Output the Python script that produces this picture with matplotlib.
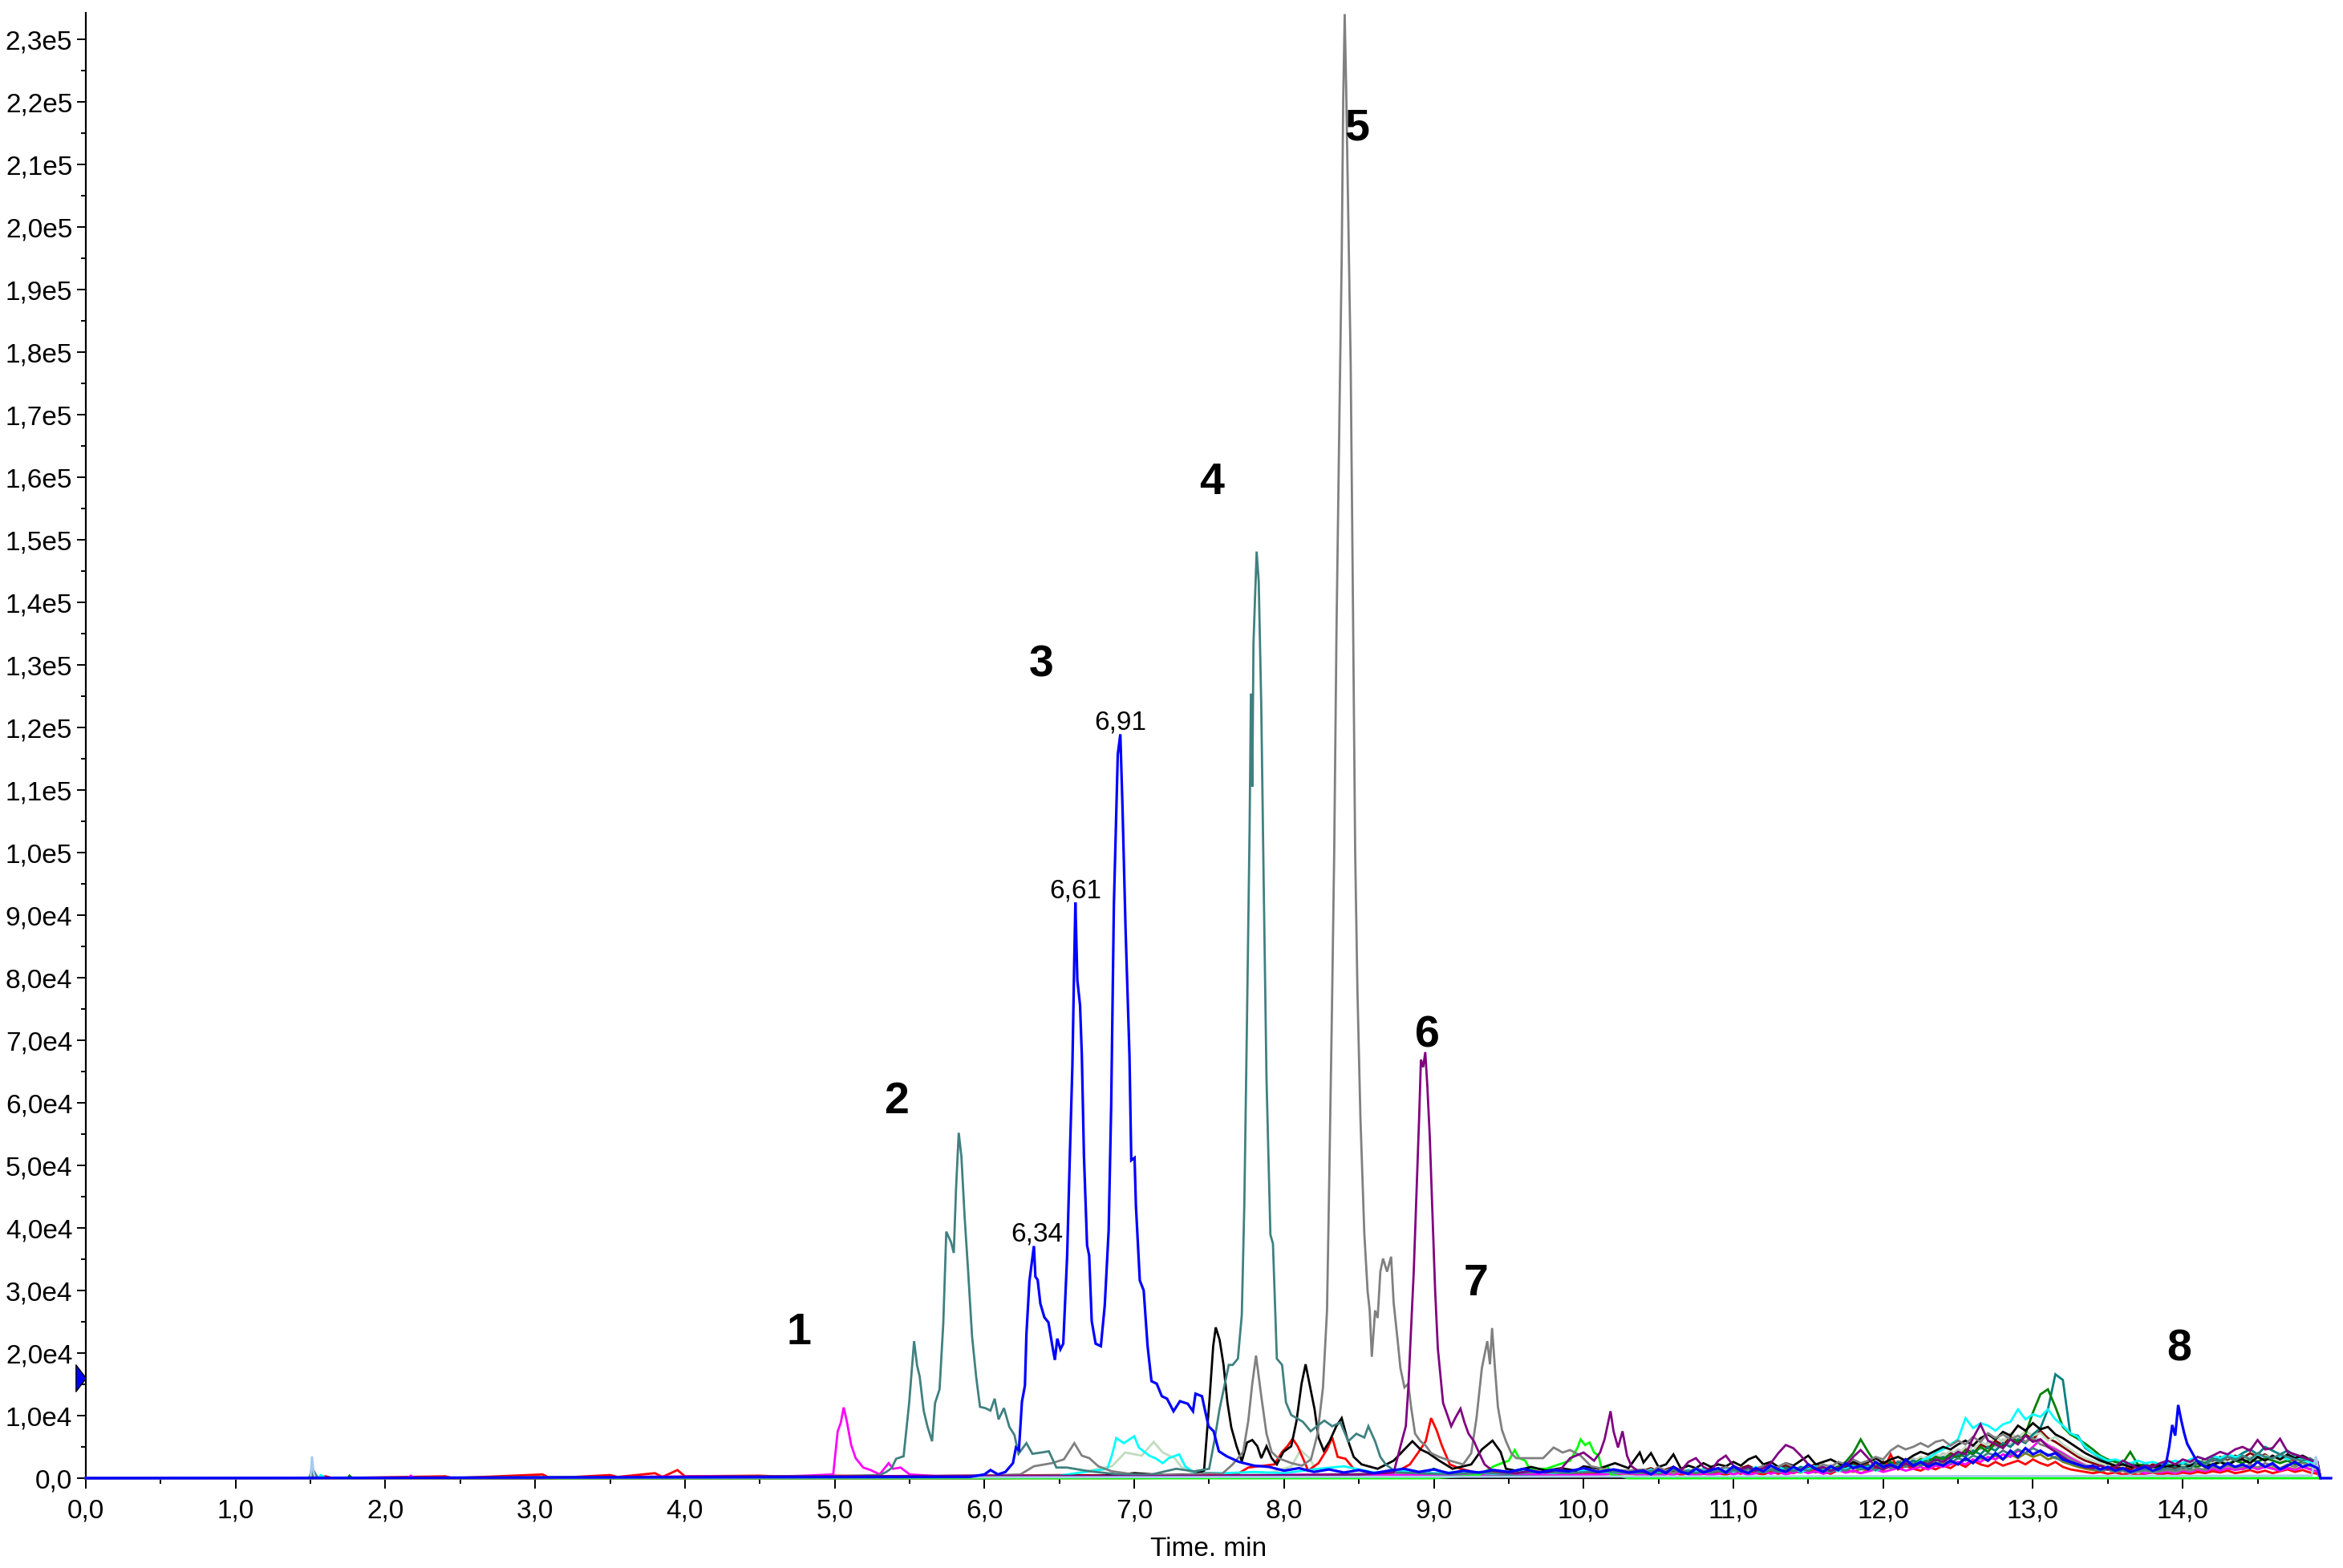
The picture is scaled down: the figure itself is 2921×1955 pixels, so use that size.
import numpy as np
import matplotlib
matplotlib.use("Agg")
import matplotlib.pyplot as plt
from matplotlib.ticker import MultipleLocator, FuncFormatter
from matplotlib.path import Path
from matplotlib import font_manager

# ---------------- data (time in min, intensity in thousands of counts) ----------------
T_GRID = [10.40, 10.45, 10.50, 10.55, 10.60, 10.65, 10.70, 10.75, 10.80, 10.85,
          10.90, 10.95, 11.00, 11.05, 11.10, 11.15, 11.20, 11.25, 11.30, 11.35,
          11.40, 11.45, 11.50, 11.55, 11.60, 11.65, 11.70, 11.75, 11.80, 11.85,
          11.90, 11.95, 12.00, 12.05, 12.10, 12.15, 12.20, 12.25, 12.30, 12.35,
          12.40, 12.45, 12.50, 12.55, 12.60, 12.65, 12.70, 12.75, 12.80, 12.85,
          12.90, 12.95, 13.00, 13.05, 13.10, 13.15, 13.20, 13.25, 13.30, 13.35,
          13.40, 13.45, 13.50, 13.55, 13.60, 13.65, 13.70, 13.75, 13.80, 13.85,
          13.90, 13.95, 14.00, 14.05, 14.10, 14.15, 14.20, 14.25, 14.30, 14.35,
          14.40, 14.45, 14.50, 14.55, 14.60, 14.65, 14.70, 14.75, 14.80, 14.85,
          14.90]

# explicit (time, kcounts) points
blue_pts = [(0, 0), (5.9, 0.2), (6.0, 0.6), (6.04, 1.3), (6.09, 0.6), (6.14, 1.0), (6.19, 2.4),
            (6.21, 4.9), (6.23, 4.5), (6.25, 12.2), (6.27, 14.8), (6.28, 23), (6.30, 31.5),
            (6.33, 37.1), (6.34, 32.2), (6.355, 31.7), (6.373, 27.9), (6.40, 25.7), (6.427, 24.9),
            (6.454, 21), (6.47, 18.9), (6.486, 22.3), (6.507, 20.6), (6.526, 21.5), (6.552, 35.6),
            (6.57, 51.6), (6.587, 66), (6.6, 83.6), (6.607, 92), (6.62, 79.6), (6.638, 75.6),
            (6.65, 67.6), (6.664, 51.6), (6.685, 37.2), (6.699, 35.6), (6.716, 25.1), (6.742, 21.5),
            (6.777, 21.1), (6.803, 27.6), (6.829, 39.6), (6.846, 59.6), (6.864, 91.7), (6.89, 115.7),
            (6.907, 118.9), (6.921, 107.7), (6.942, 87.7), (6.968, 67.6), (6.98, 50.8), (7.002, 51.2),
            (7.011, 43.6), (7.037, 31.6), (7.063, 30), (7.089, 21.1), (7.115, 15.5), (7.15, 15.1),
            (7.184, 13.1), (7.219, 12.7), (7.262, 10.7), (7.305, 12.3), (7.357, 11.9), (7.392, 10.7),
            (7.409, 13.5), (7.452, 13.1), (7.47, 11.1), (7.496, 8.3), (7.53, 7.5), (7.565, 4.3),
            (7.617, 3.5), (7.7, 2.6), (7.8, 2.0), (7.9, 1.8), (8.0, 1.2), (8.1, 1.6), (8.2, 1.0),
            (8.3, 1.4), (8.4, 0.9), (8.5, 1.3), (8.6, 0.8), (8.7, 1.2), (8.8, 1.5), (8.9, 1.0),
            (9.0, 1.4), (9.1, 0.8), (9.2, 1.2), (9.3, 0.9), (9.4, 1.3), (9.5, 1.0), (9.6, 1.5),
            (9.7, 0.9), (9.8, 1.3), (9.9, 1.1), (10.0, 1.6), (10.1, 1.0), (10.2, 1.4), (10.3, 0.9)]
blue_peak8 = [(13.85, 1.6), (13.89, 2.5), (13.91, 5.0), (13.93, 8.5), (13.95, 6.8), (13.97, 11.7),
              (13.99, 9.3), (14.01, 7.2), (14.03, 5.5), (14.06, 4.2), (14.09, 2.9), (14.13, 2.1),
              (14.17, 1.6)]
blue_grid = [1.2, 0.6, 1.4, 0.8, 1.8, 1.0, 0.7, 1.5, 0.9, 1.3,
             1.6, 0.9, 1.9, 1.2, 0.8, 1.6, 1.1, 2.0, 1.4, 1.0,
             1.8, 1.2, 2.2, 1.5, 1.0, 1.9, 1.3, 2.4, 1.6, 2.0,
             1.4, 2.6, 1.8, 2.2, 1.6, 3.0, 2.0, 2.6, 1.8, 2.4,
             2.0, 2.8, 2.2, 3.2, 2.4, 3.6, 2.8, 4.0, 3.0, 4.4,
             3.4, 4.8, 3.8, 4.4, 3.6, 4.0, 3.0, 2.6, 2.2, 1.8,
             2.0, 1.4, 1.8, 1.2, 1.6, 1.0, 1.4, 1.8, 1.2, 1.6,
             2.0, 2.0, 2.0, 2.0, 2.0, 1.8, 2.2, 1.6, 2.4, 1.8,
             2.2, 1.6, 2.6, 1.8, 2.4, 1.4, 2.0, 2.6, 1.8, 2.2,
             1.6]

teal_pts = [(0, 0), (1.5, 0), (1.52, 1.2), (1.55, 0), (5.0, 0.3), (5.3, 0.5), (5.345, 1.0),
            (5.38, 1.6), (5.41, 3.1), (5.46, 3.5), (5.497, 12), (5.53, 21.9), (5.55, 18), (5.567, 16.3),
            (5.594, 10.8), (5.62, 8.2), (5.65, 5.9), (5.67, 12), (5.7, 14.2), (5.725, 24.8),
            (5.745, 39.4), (5.777, 37.7), (5.795, 36), (5.81, 46.2), (5.828, 55.2), (5.846, 51.4),
            (5.867, 41.9), (5.89, 33.4), (5.917, 22.7), (5.944, 16.3), (5.97, 11.4), (6.005, 11.2),
            (6.04, 10.8), (6.068, 12.7), (6.094, 9.4), (6.13, 11.2), (6.166, 8.2), (6.2, 6.9),
            (6.227, 3.9), (6.28, 5.6), (6.32, 3.9), (6.38, 4.1), (6.43, 4.3), (6.48, 1.7),
            (6.55, 1.7), (6.7, 1.1), (6.9, 0.6), (7.1, 0.5), (7.28, 1.5), (7.4, 1.1), (7.5, 1.5),
            (7.536, 6.1), (7.57, 11.1), (7.605, 15.1), (7.631, 18.1), (7.657, 18.1), (7.692, 19.1),
            (7.718, 26.1), (7.735, 43.9), (7.753, 73.8), (7.77, 103.6), (7.779, 125.4),
            (7.788, 110.5), (7.796, 133.4), (7.817, 148.1), (7.831, 143.3), (7.848, 123.4),
            (7.865, 93.6), (7.883, 63.8), (7.909, 38.9), (7.926, 37.5), (7.952, 19.1), (7.987, 18.1),
            (8.013, 12.1), (8.048, 10.1), (8.091, 9.5), (8.126, 9.0), (8.178, 7.5), (8.23, 8.5),
            (8.269, 9.2), (8.322, 8.3), (8.376, 8.9), (8.429, 5.9), (8.483, 7.1), (8.536, 6.5),
            (8.563, 8.3), (8.608, 5.9), (8.643, 3.4), (8.679, 2.2), (8.75, 0.9), (8.9, 0.8),
            (9.1, 0.6), (9.3, 0.9), (9.5, 0.7), (9.7, 1.0), (9.9, 0.8), (10.1, 1.1), (10.3, 0.9)]
teal_grid = [0.8, 1.2, 0.7, 1.0, 1.4, 0.9, 1.2, 0.8, 1.1, 0.9,
             1.2, 0.8, 1.3, 1.0, 1.5, 1.1, 0.9, 1.3, 1.0, 1.4,
             1.1, 1.5, 1.2, 1.7, 1.3, 1.0, 1.5, 1.2, 1.8, 1.4,
             1.7, 1.3, 2.0, 1.6, 2.2, 1.8, 2.4, 2.0, 2.6, 2.2,
             2.8, 2.4, 3.2, 2.8, 3.6, 3.2, 4.0, 3.6, 4.4, 3.8,
             4.6, 4.0, 4.8, 4.2, 3.8, 3.2, 2.8, 2.4, 2.0, 1.8,
             1.5, 1.2, 1.4, 1.1, 1.3, 1.0, 1.2, 1.4, 1.1, 1.3,
             1.6, 1.3, 1.8, 1.5, 2.6, 2.2, 3.0, 2.6, 3.4, 2.8,
             3.6, 3.0, 4.0, 3.4, 3.2, 3.8, 3.4, 3.0, 2.8, 3.2,
             2.4]

gray_pts = [(0, 0), (1.5, 0), (1.52, 1.2), (1.54, 0), (5.5, 0.3), (6.0, 0.4), (6.24, 0.6),
            (6.33, 1.9), (6.45, 2.4), (6.53, 3.0), (6.6, 5.6), (6.65, 3.6), (6.7, 3.2), (6.76, 1.9),
            (6.85, 1.1), (7.0, 0.6), (7.3, 0.5), (7.5, 0.8), (7.587, 0.7), (7.657, 2.2), (7.727, 4.2),
            (7.761, 9.1), (7.788, 15.1), (7.813, 19.6), (7.848, 13.1), (7.883, 7.1), (7.917, 4.2),
            (7.961, 3.2), (8.05, 2.4), (8.12, 2.0), (8.18, 3.0), (8.224, 7.1), (8.26, 14.5),
            (8.287, 26.8), (8.30, 45), (8.32, 75), (8.335, 100), (8.35, 135), (8.37, 170),
            (8.385, 195), (8.395, 220), (8.405, 234), (8.415, 222), (8.43, 200), (8.445, 178),
            (8.46, 140), (8.475, 100), (8.49, 78), (8.51, 57.6), (8.536, 39.1), (8.558, 29.9),
            (8.572, 26.8), (8.586, 19.4), (8.608, 26.8), (8.625, 25.6), (8.643, 33), (8.661, 35.1),
            (8.688, 33), (8.715, 35.4), (8.732, 28), (8.759, 21.9), (8.777, 17.6), (8.804, 14.5),
            (8.83, 15.1), (8.848, 11.4), (8.875, 7.1), (8.911, 5.9), (8.946, 5.2), (8.982, 4.0),
            (9.036, 3.4), (9.107, 2.8), (9.196, 2.2), (9.25, 4.0), (9.285, 9.6), (9.321, 17.6),
            (9.357, 21.9), (9.375, 18.2), (9.389, 24.0), (9.41, 17), (9.428, 11.4), (9.455, 7.7),
            (9.482, 5.9), (9.517, 4.0), (9.55, 3.2), (9.64, 3.2), (9.73, 3.2), (9.8, 4.9),
            (9.86, 4.1), (9.91, 4.5), (9.98, 3.6), (10.05, 1.9), (10.15, 1.4), (10.3, 1.2)]
gray_grid = [1.4, 1.0, 1.8, 1.2, 0.8, 1.4, 1.0, 1.6, 1.2, 0.9,
             1.3, 1.8, 1.2, 1.6, 1.0, 1.5, 2.0, 1.4, 1.8, 2.4,
             1.8, 1.4, 2.0, 1.6, 2.2, 1.8, 2.6, 2.2, 3.0, 2.4,
             2.8, 3.4, 3.0, 4.4, 5.2, 4.6, 5.0, 5.6, 5.0, 5.8,
             6.1, 5.2, 6.0, 5.4, 6.6, 5.8, 7.2, 6.4, 7.0, 6.2,
             6.8, 5.8, 6.4, 5.4, 5.0, 4.4, 3.8, 3.0, 2.4, 2.0,
             1.6, 1.2, 1.4, 1.0, 1.2, 0.8, 1.0, 1.2, 0.9, 1.1,
             1.3, 1.0, 1.4, 1.2, 1.6, 1.3, 1.8, 1.5, 2.0, 1.6,
             1.8, 2.2, 1.7, 2.4, 2.0, 1.6, 2.2, 1.8, 2.4, 2.0,
             1.6]

purple_pts = [(0, 0), (3.0, 0), (3.5, 0.2), (5, 0.3), (6, 0.4), (7, 0.3), (8, 0.5), (8.5, 0.6),
              (8.732, 0.9), (8.759, 3.4), (8.786, 5.9), (8.813, 8.3), (8.83, 14.5), (8.848, 23.7),
              (8.866, 33), (8.884, 45.3), (8.902, 57.6), (8.914, 66.9), (8.929, 65.7), (8.943, 68.1),
              (8.957, 62.6), (8.973, 54.6), (8.991, 42.2), (9.009, 29.9), (9.027, 20.7),
              (9.045, 16.3), (9.062, 12), (9.089, 10.2), (9.116, 8.3), (9.143, 9.6), (9.178, 11.1),
              (9.205, 8.9), (9.232, 7.1), (9.268, 5.9), (9.303, 4.0), (9.339, 2.2), (9.392, 1.2),
              (9.45, 1.0), (9.55, 0.8), (9.65, 1.2), (9.75, 0.9), (9.85, 1.5), (9.91, 3.2),
              (10.0, 4.1), (10.07, 2.8), (10.11, 4.1), (10.14, 6.2), (10.18, 10.7), (10.2, 7.5),
              (10.23, 4.9), (10.26, 7.5), (10.29, 3.6), (10.32, 1.9), (10.36, 1.2)]
purple_grid = [1.0, 0.6, 1.4, 0.9, 1.8, 1.2, 2.6, 3.2, 1.8, 1.2,
               2.8, 3.6, 2.0, 1.4, 1.8, 1.2, 1.6, 2.4, 4.0, 5.3,
               4.8, 3.6, 2.2, 1.4, 1.8, 1.2, 1.6, 2.0, 3.4, 4.5,
               3.2, 1.8, 1.4, 2.0, 1.6, 2.4, 1.8, 2.6, 2.2, 3.0,
               2.6, 3.4, 4.2, 3.8, 6.4, 8.6, 6.0, 5.4, 4.8, 6.2,
               5.4, 6.8, 5.8, 6.2, 5.0, 4.2, 3.4, 2.6, 2.2, 1.8,
               1.6, 2.0, 1.4, 1.8, 2.8, 2.2, 1.6, 2.0, 1.8, 2.4,
               2.8, 2.2, 3.0, 2.6, 3.4, 3.0, 3.6, 4.2, 3.8, 4.6,
               5.0, 4.4, 6.1, 4.6, 4.8, 6.3, 4.2, 3.8, 3.4, 2.9,
               2.5]

black_pts = [(0, 0), (1.5, 0), (1.51, 2.0), (1.53, 0), (4.0, 0.2), (5.0, 0.3), (6.0, 0.3),
             (6.8, 0.4), (7.0, 0.8), (7.2, 0.5), (7.4, 0.6), (7.466, 1.2), (7.501, 12.1),
             (7.527, 21.1), (7.544, 24.1), (7.57, 22.1), (7.596, 18.1), (7.622, 12.1), (7.648, 8.1),
             (7.683, 5.1), (7.718, 2.7), (7.753, 5.7), (7.788, 6.1), (7.822, 5.1), (7.848, 3.2),
             (7.883, 5.1), (7.917, 3.2), (7.952, 2.2), (7.996, 4.2), (8.048, 5.1), (8.083, 9.1),
             (8.117, 15.1), (8.144, 18.2), (8.17, 15.1), (8.204, 11.0), (8.23, 6.5), (8.265, 4.4),
             (8.304, 5.9), (8.349, 8.3), (8.385, 9.6), (8.42, 6.5), (8.465, 3.4), (8.518, 2.2),
             (8.625, 1.5), (8.732, 2.8), (8.804, 4.6), (8.857, 5.9), (8.911, 4.6), (8.964, 4.0),
             (9.036, 2.8), (9.125, 1.5), (9.25, 2.2), (9.321, 4.6), (9.392, 6.0), (9.446, 4.2),
             (9.482, 1.5), (9.55, 1.2), (9.65, 1.8), (9.75, 1.2), (9.85, 1.6), (9.95, 1.2),
             (10.0, 1.9), (10.1, 1.5), (10.21, 2.4), (10.3, 1.6), (10.375, 4.1)]
black_grid = [2.5, 4.0, 1.8, 2.2, 3.8, 1.5, 2.0, 1.6, 2.4, 1.8,
              2.2, 1.9, 2.6, 2.0, 3.0, 3.5, 2.2, 2.6, 1.8, 2.4,
              2.0, 2.8, 3.6, 2.2, 2.6, 3.0, 2.4, 1.9, 2.6, 2.2,
              2.6, 3.2, 2.4, 3.0, 3.4, 2.8, 3.6, 4.2, 3.8, 4.4,
              5.0, 4.6, 5.4, 6.0, 5.2, 6.4, 7.0, 6.2, 7.4, 6.8,
              8.4, 7.6, 8.8, 7.8, 8.2, 7.0, 6.4, 5.6, 4.8, 4.0,
              3.4, 2.8, 2.4, 2.0, 2.2, 1.8, 2.0, 1.6, 1.8, 2.0,
              1.8, 2.2, 1.6, 2.0, 2.4, 1.8, 2.2, 2.6, 2.0, 2.8,
              3.0, 2.4, 3.4, 2.8, 3.6, 3.0, 3.8, 3.2, 3.6, 3.0,
              2.6]

red_pts = [(0, 0), (1.5, 0), (1.51, 1.5), (1.53, 0), (1.6, 0.3), (1.65, 0), (2.4, 0.3), (2.45, 0),
           (3.05, 0.6), (3.1, 0), (3.5, 0.5), (3.55, 0.2), (3.8, 0.8), (3.85, 0.2), (3.95, 1.3),
           (4.0, 0.3), (4.5, 0.4), (4.7, 0.2), (5.0, 0.4), (5.5, 0.3), (6.0, 0.4), (6.5, 0.5),
           (7.0, 0.4), (7.5, 0.5), (7.692, 0.7), (7.761, 1.7), (7.935, 2.2), (7.987, 4.2),
           (8.022, 5.1), (8.057, 6.3), (8.091, 5.1), (8.126, 3.2), (8.161, 1.2), (8.23, 2.4),
           (8.287, 4.6), (8.322, 6.5), (8.358, 3.4), (8.411, 3.1), (8.465, 1.5), (8.6, 0.8),
           (8.75, 1.0), (8.84, 2.2), (8.893, 4.0), (8.946, 5.9), (8.982, 9.6), (9.018, 7.7),
           (9.054, 5.2), (9.107, 2.2), (9.178, 1.5), (9.3, 0.8), (9.5, 1.0), (9.7, 0.7), (9.9, 0.9),
           (10.1, 0.6), (10.3, 0.8)]
red_grid = [0.4, 0.7, 0.3, 0.6, 0.9, 0.5, 0.8, 0.4, 0.7, 0.5,
            0.8, 0.5, 1.0, 0.7, 1.2, 0.8, 0.6, 1.0, 0.7, 1.1,
            0.8, 1.2, 0.9, 1.5, 1.0, 0.7, 1.3, 0.9, 1.2, 0.8,
            1.1, 1.6, 1.2, 3.8, 1.4, 2.0, 1.5, 1.2, 1.8, 1.4,
            2.0, 1.6, 2.4, 1.8, 2.8, 2.2, 1.9, 2.6, 2.0, 2.4,
            2.8, 2.2, 3.0, 2.4, 2.0, 2.6, 1.8, 1.4, 1.2, 1.0,
            0.8, 1.0, 0.7, 0.9, 0.6, 0.8, 0.5, 0.7, 0.9, 0.6,
            0.8, 0.6, 0.9, 0.7, 1.0, 0.8, 1.1, 0.9, 1.2, 0.8,
            1.0, 1.3, 0.9, 1.2, 0.8, 1.1, 1.4, 1.0, 1.3, 0.9,
            0.7]

magenta_pts = [(0, 0), (2.15, 0), (2.17, 0.4), (2.19, 0), (4.2, 0.3), (4.5, 0.2), (4.8, 0.4),
               (4.99, 0.6), (5.02, 7.5), (5.04, 8.8), (5.06, 11.3), (5.08, 9.2), (5.11, 5.3),
               (5.14, 3.2), (5.19, 1.7), (5.24, 1.3), (5.3, 0.6), (5.36, 2.4), (5.39, 1.5),
               (5.44, 1.7), (5.5, 0.6), (5.7, 0.3), (6.0, 0.2), (6.5, 0.3), (7.0, 0.4), (7.5, 0.3),
               (8.0, 0.5), (8.5, 0.6), (9.0, 0.4), (9.5, 0.7), (10.0, 0.5), (10.3, 0.8)]
magenta_grid = [0.5, 0.8, 0.4, 0.7, 0.5, 0.9, 0.6, 0.4, 0.8, 0.5,
                0.7, 1.0, 0.6, 0.9, 0.5, 0.8, 1.1, 0.7, 1.0, 0.6,
                0.9, 1.2, 0.8, 1.1, 0.7, 1.0, 1.3, 0.9, 1.2, 0.8,
                1.1, 1.4, 1.0, 1.3, 1.6, 1.2, 1.5, 1.8, 1.4, 2.0,
                1.8, 2.2, 2.6, 2.2, 3.0, 2.6, 3.4, 3.0, 3.8, 3.4,
                4.4, 4.0, 5.0, 6.2, 5.2, 4.6, 4.0, 3.2, 2.6, 2.0,
                1.6, 1.2, 1.4, 1.0, 1.2, 0.9, 1.1, 0.8, 1.0, 0.9,
                1.1, 0.8, 1.2, 1.0, 1.4, 1.1, 1.5, 1.2, 1.6, 1.3,
                1.5, 1.9, 1.4, 1.8, 1.5, 1.2, 1.6, 1.3, 1.8, 1.4,
                1.0]

cyan_pts = [(0, 0), (1.55, 0), (1.57, 0.5), (1.6, 0), (5.0, 0.2), (6.0, 0.3), (6.5, 0.4),
            (6.82, 1.5), (6.85, 3.6), (6.88, 6.4), (6.93, 5.6), (7.0, 6.7), (7.03, 4.9), (7.1, 3.6),
            (7.14, 3.2), (7.19, 2.4), (7.23, 3.2), (7.3, 3.8), (7.34, 1.9), (7.4, 0.9), (7.6, 0.8),
            (7.8, 1.0), (8.0, 0.8), (8.23, 1.5), (8.4, 1.9), (8.6, 0.9), (8.8, 1.1), (9.0, 0.8),
            (9.2, 1.0), (9.4, 0.7), (9.6, 1.1), (9.8, 0.8), (10.0, 1.2), (10.2, 0.9)]
cyan_grid = [1.0, 1.4, 0.8, 1.2, 1.6, 1.0, 1.3, 0.9, 1.5, 1.1,
             1.3, 1.7, 1.0, 1.4, 1.2, 1.8, 1.1, 1.5, 1.9, 1.2,
             1.6, 1.0, 1.4, 2.0, 1.3, 1.7, 1.1, 1.5, 1.9, 1.4,
             1.8, 1.2, 1.6, 2.2, 1.8, 2.4, 2.0, 2.8, 3.2, 4.0,
             4.6, 5.4, 6.2, 9.6, 8.0, 8.8, 8.4, 7.6, 8.6, 9.0,
             11.0, 9.4, 10.2, 9.8, 11.0, 9.4, 8.4, 7.2, 6.6, 5.0,
             4.0, 3.4, 2.8, 3.0, 2.6, 2.4, 2.8, 2.4, 2.6, 2.2,
             2.5, 2.8, 2.4, 3.0, 3.4, 3.0, 3.6, 3.2, 3.8, 3.4,
             3.6, 3.0, 3.8, 3.4, 3.2, 3.6, 3.0, 3.4, 2.8, 2.6,
             2.4]

lightgreen_pts = [(0, 0), (5, 0.2), (6.5, 0.3), (6.85, 1.9), (6.94, 4.1), (7.05, 3.6), (7.13, 5.8),
                  (7.19, 4.1), (7.27, 3.2), (7.31, 1.9), (7.4, 0.6), (7.6, 0.5), (7.9, 0.8),
                  (8.05, 1.9), (8.11, 4.5), (8.17, 3.2), (8.23, 0.6), (8.5, 0.8), (8.8, 1.2),
                  (9.0, 0.7), (9.3, 1.0), (9.6, 0.8), (9.9, 1.1), (10.2, 0.7)]
lightgreen_grid = [0.8, 1.2, 0.6, 1.0, 1.4, 0.8, 1.2, 0.7, 1.1, 0.9,
                   1.2, 0.8, 1.4, 1.0, 1.6, 1.2, 1.8, 1.3, 1.0, 1.6,
                   1.2, 1.8, 1.4, 2.0, 1.6, 2.2, 1.8, 1.4, 2.0, 1.6,
                   2.0, 2.4, 1.8, 2.6, 2.2, 3.0, 2.6, 3.4, 3.0, 3.8,
                   3.4, 4.4, 3.8, 5.0, 4.4, 5.8, 5.2, 6.6, 5.8, 7.2,
                   6.4, 7.6, 6.8, 7.2, 6.0, 6.6, 5.4, 4.6, 3.8, 3.2,
                   2.8, 2.4, 2.0, 2.4, 1.8, 2.2, 1.6, 2.0, 1.8, 2.2,
                   1.8, 2.4, 2.0, 2.6, 2.2, 2.8, 2.4, 3.0, 2.6, 3.2,
                   2.8, 3.4, 3.0, 3.6, 3.2, 2.8, 3.4, 3.0, 2.6, 3.0,
                   2.2]

silver_pts = [(0, 0), (6.0, 0), (7.0, 0.3), (8.0, 0.4), (8.6, 0.6), (9.2, 0.5), (9.6, 0.9),
              (10.0, 0.7), (10.3, 0.9)]
silver_grid = [0.6, 1.0, 0.7, 1.2, 0.8, 1.1, 0.6, 0.9, 1.3, 0.8,
               1.0, 1.4, 0.9, 1.2, 0.8, 1.3, 1.0, 1.5, 1.1, 1.4,
               1.0, 1.3, 1.7, 1.2, 1.5, 1.1, 1.6, 2.0, 1.5, 1.9,
               1.6, 2.1, 2.6, 2.2, 2.8, 2.4, 3.2, 2.8, 3.6, 3.2,
               4.0, 3.6, 4.6, 4.0, 5.2, 4.6, 5.8, 5.0, 6.2, 5.4,
               6.6, 5.8, 6.8, 6.0, 5.4, 4.8, 4.0, 3.4, 2.8, 2.2,
               1.8, 1.5, 1.9, 1.4, 1.7, 1.2, 1.6, 1.3, 1.8, 1.4,
               1.7, 2.2, 1.8, 2.4, 2.0, 2.6, 2.2, 2.8, 2.4, 3.0,
               2.6, 3.2, 2.8, 3.4, 3.0, 2.6, 3.2, 2.8, 2.4, 2.8,
               2.0]

maroon_pts = [(0, 0), (1.5, 0), (1.51, 0.8), (1.53, 0), (6.0, 0), (8.0, 0.4), (8.5, 0.3),
              (9.0, 0.6), (9.3, 0.4), (9.6, 0.8), (9.9, 0.6), (10.2, 1.0)]
maroon_grid = [1.2, 1.6, 1.0, 1.4, 1.8, 1.2, 1.0, 1.5, 1.2, 1.6,
               1.4, 1.8, 1.2, 1.6, 2.0, 1.4, 1.8, 1.2, 1.6, 2.0,
               1.6, 1.2, 1.8, 2.2, 1.6, 2.0, 1.4, 1.8, 2.4, 1.8,
               2.2, 1.8, 2.6, 2.0, 2.4, 3.0, 2.6, 3.2, 2.8, 3.6,
               3.2, 4.0, 3.6, 4.8, 4.2, 5.4, 4.8, 6.0, 5.2, 6.6,
               5.8, 7.0, 6.2, 7.6, 6.4, 5.8, 5.0, 4.2, 3.4, 2.8,
               2.4, 2.0, 2.2, 1.6, 1.8, 1.4, 2.0, 1.6, 2.2, 1.8,
               2.0, 1.6, 2.4, 2.8, 2.2, 3.0, 2.6, 3.4, 2.8, 3.6,
               3.2, 4.0, 3.4, 3.8, 3.0, 3.6, 3.2, 2.8, 3.4, 3.0,
               2.4]

olive_pts = [(0, 0), (7.0, 0), (8.0, 0.3), (8.6, 0.5), (9.0, 0.3), (9.4, 0.6), (9.8, 0.5), (10.2, 0.7)]
olive_grid = [0.6, 0.9, 0.5, 0.8, 1.0, 0.6, 0.9, 0.7, 1.1, 0.8,
              1.0, 0.7, 1.2, 0.9, 1.3, 1.0, 0.8, 1.2, 1.0, 1.4,
              1.1, 1.5, 1.2, 0.9, 1.4, 1.1, 1.6, 1.3, 1.0, 1.5,
              1.2, 1.7, 1.4, 1.9, 1.5, 2.0, 1.7, 2.3, 1.9, 2.5,
              2.2, 2.8, 2.4, 3.0, 2.6, 3.2, 2.8, 3.6, 3.0, 3.8,
              3.2, 4.0, 3.4, 3.8, 3.0, 3.4, 2.6, 2.2, 1.8, 1.5,
              1.3, 1.1, 1.4, 1.0, 1.2, 0.9, 1.1, 1.3, 1.0, 1.2,
              0.9, 1.2, 1.0, 1.4, 1.1, 1.5, 1.2, 1.6, 1.3, 1.7,
              1.4, 1.8, 1.5, 1.9, 1.6, 1.3, 1.7, 1.4, 1.8, 1.5,
              1.1]

green_pts = [(0, 0), (1.49, 0), (1.51, 1.2), (1.53, 0), (1.75, 0), (1.76, 0.4), (1.78, 0),
             (5.0, 0.1), (7.0, 0.3), (8.5, 0.4), (8.9, 0.5), (9.0, 1.5), (9.1, 0.6), (9.3, 0.5),
             (9.6, 0.9), (10.0, 0.6), (10.3, 0.9)]
green_grid = [0.7, 1.0, 0.6, 0.9, 1.2, 0.8, 1.1, 0.7, 1.0, 0.8,
              1.1, 0.8, 1.3, 1.0, 1.4, 1.1, 0.9, 1.3, 1.0, 1.5,
              1.2, 0.9, 1.4, 1.1, 1.6, 1.3, 1.8, 2.6, 4.0, 6.2,
              4.2, 2.4, 1.8, 2.6, 2.0, 2.8, 2.2, 3.0, 2.6, 3.4,
              3.0, 3.8, 3.2, 4.4, 3.8, 5.0, 4.2, 5.6, 4.8, 6.4,
              5.8, 7.0, 10.5, 13.4, 14.2, 11.4, 8.2, 7.0, 6.3, 5.5,
              4.6, 3.6, 3.0, 2.6, 2.4, 4.2, 2.2, 2.0, 1.8, 1.6,
              1.8, 2.2, 1.6, 2.0, 1.8, 2.4, 2.0, 2.6, 2.2, 2.8,
              2.4, 3.0, 2.6, 3.2, 2.8, 2.4, 2.8, 2.2, 2.6, 2.0,
              1.6]

darkteal_pts = [(0, 0), (1.5, 0), (1.52, 0.6), (1.54, 0), (8.0, 0.2), (8.8, 0.5), (9.2, 0.7),
                (9.6, 0.5), (10.0, 0.9), (10.3, 0.8)]
darkteal_grid = [0.9, 1.3, 0.8, 1.1, 1.5, 1.0, 1.3, 0.9, 1.4, 1.1,
                 1.4, 1.0, 1.6, 1.2, 1.8, 1.3, 1.0, 1.5, 1.2, 1.7,
                 1.3, 1.8, 1.4, 1.1, 1.6, 1.2, 1.9, 1.5, 2.1, 1.6,
                 2.0, 1.6, 2.3, 1.8, 2.6, 2.1, 2.8, 2.4, 3.2, 2.8,
                 3.4, 3.0, 3.8, 3.4, 4.4, 3.8, 5.0, 4.4, 5.6, 5.0,
                 6.2, 5.6, 7.0, 8.0, 11.0, 16.6, 15.7, 7.0, 6.8, 4.8,
                 4.0, 3.2, 2.6, 2.8, 2.2, 2.4, 2.0, 2.2, 1.8, 2.0,
                 2.2, 1.8, 2.4, 2.0, 2.8, 2.4, 3.2, 2.8, 3.8, 3.2,
                 4.0, 4.6, 3.8, 5.0, 4.4, 3.8, 4.4, 3.6, 3.2, 2.8,
                 2.2]

lime_pts = [(0, 0), (9.0, 0), (9.3, 0.5), (9.375, 1.5), (9.4, 1.9), (9.5, 2.8), (9.54, 4.5),
            (9.57, 3.2), (9.61, 2.8), (9.64, 1.5), (9.75, 1.5), (9.91, 2.8), (9.96, 4.9),
            (9.98, 6.2), (10.01, 5.3), (10.04, 5.7), (10.07, 4.1), (10.1, 3.6), (10.12, 1.5),
            (10.16, 1.9), (10.18, 0.6), (10.25, 0.3), (10.3, 0), (14.92, 0)]

lightblue_pts = [(0, 0), (1.5, 0), (1.51, 3.5), (1.52, 1.0), (1.53, 0), (14.86, 0.4), (14.89, 3.5),
                 (14.91, 0.5), (14.92, 0)]

threshold_level = 16.0  # kcounts, blue threshold flag on the y axis

peak_labels = [("6,34", 6.35, 37.1), ("6,61", 6.606, 92.0), ("6,91", 6.907, 118.9)]
compound_ids = ["1", "2", "3", "4", "5", "6", "7", "8"]
compound_pos = [(4.76, 21.5), (5.414, 58.5), (6.381, 128.2), (7.518, 157.4),
                (8.487, 214.0), (8.955, 69.0), (9.282, 29.3), (13.976, 18.9)]

x_ticks = [0.0, 1.0, 2.0, 3.0, 4.0, 5.0, 6.0, 7.0, 8.0, 9.0, 10.0, 11.0, 12.0, 13.0, 14.0]
x_label = "Time. min"

# ---------------- helpers ----------------
END_T = 14.92


def build(pts, grid_vals=None, extra=()):
    out = list(pts)
    if grid_vals is not None:
        assert len(grid_vals) == len(T_GRID)
        ranges = [(min(p[0] for p in seg) - 1e-6, max(p[0] for p in seg) + 1e-6) for seg in extra]
        for t, v in zip(T_GRID, grid_vals):
            if not any(lo <= t <= hi for lo, hi in ranges):
                out.append((t, v))
        out.append((END_T, 0.0))
    for seg in extra:
        out.extend(seg)
    out.sort(key=lambda p: p[0])
    t = np.array([p[0] for p in out])
    v = np.array([p[1] for p in out]) * 1000.0
    return t, v


# ---------------- fonts ----------------
names = {f.name for f in font_manager.fontManager.ttflist}
NARROW = 'Liberation Sans Narrow' in names
FAM = ['Liberation Sans Narrow', 'Liberation Sans', 'DejaVu Sans'] if NARROW \
    else ['Liberation Sans', 'DejaVu Sans']
plt.rcParams['font.family'] = FAM

TICK_FS = 28.5 if NARROW else 24
BOLD_FS = 46 if NARROW else 40

# ---------------- figure ----------------
W, H = 2921, 1956
fig = plt.figure(figsize=(W / 100, H / 100), dpi=100)
ax = fig.add_axes([107 / W, (H - 1844) / H, (2906 - 107) / W, (1844 - 17) / H])

traces = [
    ("olive", build(olive_pts, olive_grid), "#808000"),
    ("silver", build(silver_pts, silver_grid), "#c0c0c0"),
    ("maroon", build(maroon_pts, maroon_grid), "#800000"),
    ("lightgreen", build(lightgreen_pts, lightgreen_grid), "#c0dcc0"),
    ("darkteal", build(darkteal_pts, darkteal_grid), "#008080"),
    ("green", build(green_pts, green_grid), "#008000"),
    ("red", build(red_pts, red_grid), "#ff0000"),
    ("magenta", build(magenta_pts, magenta_grid), "#ff00ff"),
    ("cyan", build(cyan_pts, cyan_grid), "#00ffff"),
    ("lime", build(lime_pts), "#00ff00"),
    ("black", build(black_pts, black_grid), "#000000"),
    ("gray", build(gray_pts, gray_grid), "#808080"),
    ("teal", build(teal_pts, teal_grid), "#408080"),
    ("purple", build(purple_pts, purple_grid), "#800080"),
    ("lightblue", build(lightblue_pts), "#a6caf0"),
]
for name, (t, v), c in traces:
    ax.plot(t, v, color=c, lw=2.0, zorder=3, clip_on=False, solid_joinstyle='miter')

bt, bv = build(blue_pts, blue_grid, extra=(blue_peak8,))
bt = np.append(bt, 14.99)
bv = np.append(bv, 0.0)
ax.plot(bt, bv, color="#0000ff", lw=2.3, zorder=4, clip_on=False, solid_joinstyle='miter')

# threshold flag on the y axis
tri = Path([(-0.76, -1.0), (0.0, 0.0), (-0.76, 1.0), (-0.76, -1.0)],
           [Path.MOVETO, Path.LINETO, Path.LINETO, Path.CLOSEPOLY])
ax.plot([0], [threshold_level * 1000], marker=tri, markersize=24, markerfacecolor="#0000ff",
        markeredgecolor="#000000", markeredgewidth=1.0, linestyle='none', clip_on=False, zorder=6)

# peak retention time labels
for txt, pt, pv in peak_labels:
    ax.annotate(txt, xy=(pt, pv * 1000), xytext=(0, 5), textcoords='offset points',
                ha='center', va='baseline', fontsize=TICK_FS, color='black', zorder=7)

# compound numbers
for lab, (px, py) in zip(compound_ids, compound_pos):
    ax.text(px, py * 1000, lab, ha='center', va='baseline', fontsize=BOLD_FS,
            fontweight='bold', color='black', zorder=7)

# axes styling
ax.set_xlim(0, 14.99)
ax.set_ylim(0, 234.2e3)
for s in ['top', 'right']:
    ax.spines[s].set_visible(False)
for s in ['left', 'bottom']:
    ax.spines[s].set_linewidth(1.6)
    ax.spines[s].set_zorder(2.5)

ax.set_xticks(x_ticks)
ax.xaxis.set_minor_locator(MultipleLocator(0.5))
ax.yaxis.set_major_locator(MultipleLocator(1e4))
ax.yaxis.set_minor_locator(MultipleLocator(5e3))


def yfmt(v, pos):
    if v < -1e-9:
        return ""
    if abs(v) < 1e-9:
        return "0,0"
    e = int(np.floor(np.log10(v) + 1e-9))
    m = v / 10 ** e
    return (f"{m:.1f}".replace('.', ',')) + f"e{e}"


ax.yaxis.set_major_formatter(FuncFormatter(yfmt))
ax.xaxis.set_major_formatter(FuncFormatter(lambda x, p: f"{x:.1f}".replace('.', ',')))

ax.tick_params(axis='x', which='major', direction='out', length=9.5, width=1.4, pad=8,
               labelsize=TICK_FS)
ax.tick_params(axis='x', which='minor', direction='out', length=5, width=1.4)
ax.tick_params(axis='y', which='major', direction='out', length=8, width=1.4, pad=4,
               labelsize=TICK_FS)
ax.tick_params(axis='y', which='minor', direction='out', length=4.3, width=1.4)

ax.set_xlabel(x_label, fontsize=TICK_FS)
ax.xaxis.label.set_va('baseline')
ax.xaxis.set_label_coords(0.5, -(1940 - 1844) / (1844 - 17))

fig.savefig("out.png", dpi=100)
